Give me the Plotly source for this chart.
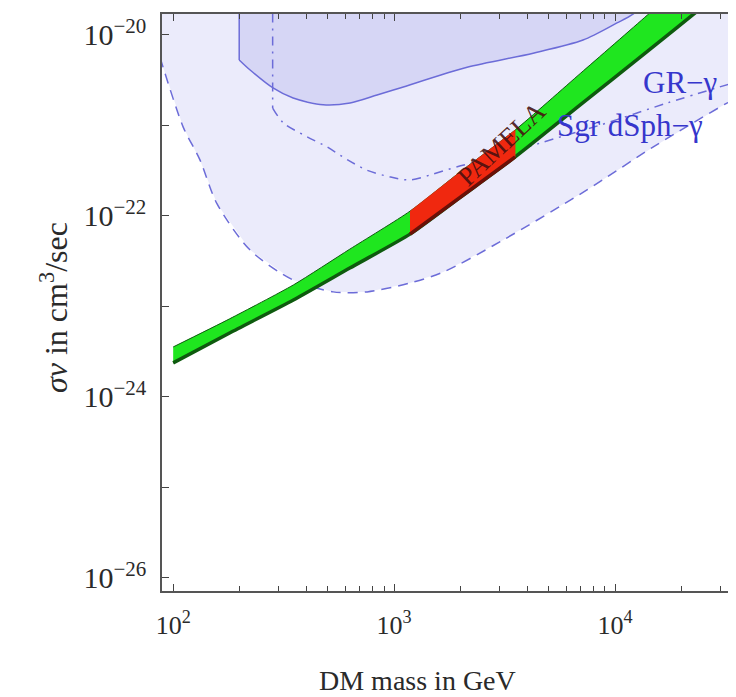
import numpy as np
import plotly.graph_objects as go

# ---------------- data ----------------
# thermal/Sommerfeld band (green), sigma v in cm^3/s
band_mass = [100, 180, 350, 630, 1180, 2000, 3530, 7000, 14000, 25000, 40000]
band_upper = [3.57e-24, 7.3e-24, 1.73e-23, 4.3e-23, 1.13e-22, 3.1e-22, 8.9e-22,
              3.8e-21, 1.66e-20, 5.9e-20, 1.6e-19]
band_lower = [2.38e-24, 5.1e-24, 1.18e-23, 2.66e-23, 6.3e-23, 1.62e-22, 4.49e-22,
              1.71e-21, 6.6e-21, 2.06e-20, 5.1e-20]
pamela_range = [1180, 3530]   # mass range of the red PAMELA-favoured region

# Sgr dSph - gamma bound (dashed)
sgr_mass = [87.3, 90, 111, 132, 158, 223, 349, 530, 755, 1180, 1670, 3020,
            7460, 14900, 32100, 36800]
sgr_sv = [5.6e-21, 4.4e-21, 9.6e-22, 4.2e-22, 1.36e-22, 4.2e-23, 1.96e-23,
          1.45e-23, 1.45e-23, 1.82e-23, 2.4e-23, 5.2e-23, 1.94e-22, 5.8e-22,
          1.77e-21, 2.1e-21]

# Galactic ridge - gamma bound (dash-dot)
gr_mass = [282, 282, 315, 404, 497, 613, 755, 959, 1180, 1455, 1930, 3020,
           4580, 8550, 17200, 34900]
gr_sv = [1e-19, 1.56e-21, 1.07e-21, 7.5e-22, 5.8e-22, 4.2e-22, 3.2e-22,
         2.7e-22, 2.5e-22, 2.84e-22, 3.5e-22, 4.6e-22, 6.4e-22, 1.01e-21,
         1.77e-21, 3.0e-21]

# excluded region (solid)
excl_mass = [199, 199, 223, 283, 349, 477, 632, 837, 1064, 2140, 4260, 7160,
             10200, 12050, 16000, 16000]
excl_sv = [1e-19, 5.3e-21, 4.1e-21, 2.6e-21, 2.01e-21, 1.69e-21, 1.77e-21,
           2.17e-21, 2.6e-21, 4.4e-21, 6.3e-21, 8.8e-21, 1.36e-20, 1.7e-20,
           3.2e-20, 1e-19]

sv_top = 1e-19

x_major = [100, 1000, 10000]
x_major_text = ["10<sup>2</sup>", "10<sup>3</sup>", "10<sup>4</sup>"]
x_minor = [200, 300, 400, 500, 600, 700, 800, 900,
           2000, 3000, 4000, 5000, 6000, 7000, 8000, 9000, 20000, 30000]
y_major = [1e-26, 1e-24, 1e-22, 1e-20]
y_major_text = ["10<sup>\u221226</sup>", "10<sup>\u221224</sup>",
                "10<sup>\u221222</sup>", "10<sup>\u221220</sup>"]
y_minor = [1e-25, 1e-23, 1e-21]

# ---------------- styles ----------------
FONT = "Liberation Serif"
LINE_BLUE = "#6c6cd8"
LIGHT_FILL = "#ebebfb"
DARK_FILL = "#d6d6f5"
GREEN = "#1fe61f"
DARK_GREEN = "#0e5a0e"
RED = "#f0280f"
DARK_RED = "#6a1008"
LABEL_BLUE = "#3636cc"
TEXT = "#2a2a2a"
SM = 0.8

fig = go.Figure()


def add(**kw):
    fig.add_trace(go.Scatter(mode="lines", hoverinfo="skip", showlegend=False, **kw))


# light fill above the Sgr dSph curve
add(x=sgr_mass + [sgr_mass[-1], sgr_mass[0]], y=sgr_sv + [sv_top, sv_top],
    fill="toself", fillcolor=LIGHT_FILL, line=dict(width=0))

# darker excluded region
add(x=excl_mass, y=excl_sv, fill="toself", fillcolor=DARK_FILL, line=dict(width=0))

# boundary lines: vertical part straight, curved part smooth
add(x=excl_mass[:2], y=excl_sv[:2], line=dict(color=LINE_BLUE, width=1.5))
add(x=excl_mass[1:-1], y=excl_sv[1:-1],
    line=dict(color=LINE_BLUE, width=1.5, shape="spline", smoothing=SM))
gr_dash = "9px,6px,2px,6px"
add(x=gr_mass[:2], y=gr_sv[:2], line=dict(color=LINE_BLUE, width=1.5, dash=gr_dash))
add(x=gr_mass[1:], y=gr_sv[1:],
    line=dict(color=LINE_BLUE, width=1.5, dash=gr_dash, shape="spline", smoothing=SM))
add(x=sgr_mass, y=sgr_sv,
    line=dict(color=LINE_BLUE, width=1.5, dash="10px,7px", shape="spline", smoothing=SM))

# green band
add(x=band_mass + band_mass[::-1], y=band_upper + band_lower[::-1],
    fill="toself", fillcolor=GREEN,
    line=dict(color=DARK_GREEN, width=1, shape="spline", smoothing=0.6))
add(x=band_mass, y=band_lower,
    line=dict(color=DARK_GREEN, width=3.5, shape="spline", smoothing=0.6))

# red PAMELA part of the band
idx = [i for i, m in enumerate(band_mass) if pamela_range[0] <= m <= pamela_range[1]]
rm = [band_mass[i] for i in idx]
ru = [band_upper[i] for i in idx]
rl = [band_lower[i] for i in idx]
add(x=rm + rm[::-1], y=ru + rl[::-1], fill="toself", fillcolor=RED,
    line=dict(color=RED, width=0.5))
add(x=rm, y=rl, line=dict(color=DARK_RED, width=3.5))

# labels
fig.add_annotation(x=np.log10(3050), y=np.log10(6.3e-22), text="PAMELA",
                   showarrow=False, textangle=-43,
                   font=dict(family=FONT, size=27, color="rgba(70,15,15,0.9)"))
fig.add_annotation(x=np.log10(29600), y=np.log10(3.0e-21), text="GR\u2212\u03b3",
                   showarrow=False, xanchor="right", yanchor="middle",
                   font=dict(family=FONT, size=31, color=LABEL_BLUE))
fig.add_annotation(x=np.log10(25500), y=np.log10(1.01e-21),
                   text="Sgr dSph\u2212\u03b3",
                   showarrow=False, xanchor="right", yanchor="middle",
                   font=dict(family=FONT, size=31, color=LABEL_BLUE))

# plot area in figure pixels (page body adds an 8px offset)
PL, PR, PT, PB = 154, 727, 6, 583
PW, PH = PR - PL, PB - PT

# axis titles
fig.add_annotation(xref="paper", yref="paper", x=(409 - PL) / PW, y=-(672 - PB) / PH,
                   text="DM mass in GeV", showarrow=False,
                   xanchor="center", yanchor="middle",
                   font=dict(family=FONT, size=28, color=TEXT))
fig.add_annotation(xref="paper", yref="paper", x=-(PL - 46) / PW, y=(PB - 300) / PH,
                   text="<i>\u03c3v</i> in cm<sup>3</sup>/sec", showarrow=False,
                   textangle=-90, xanchor="center", yanchor="middle",
                   font=dict(family=FONT, size=32, color=TEXT))

axis_common = dict(
    type="log", showgrid=False, zeroline=False, showline=True, automargin=False,
    linecolor="#555555", linewidth=1.5, mirror="ticks", ticks="inside",
    ticklen=7, tickwidth=1.2, tickcolor="#444444",
)

fig.update_layout(
    width=728, height=689,
    margin=dict(l=PL, r=728 - PR, t=PT, b=689 - PB),
    paper_bgcolor="white", plot_bgcolor="white",
    xaxis=dict(axis_common,
               range=[np.log10(89), np.log10(34900)],
               tickvals=x_major, ticktext=x_major_text, ticklabelstandoff=10,
               tickfont=dict(family=FONT, size=26, color=TEXT),
               minor=dict(tickvals=x_minor, ticks="inside", ticklen=5,
                          tickcolor="#444444", tickwidth=1)),
    yaxis=dict(axis_common,
               range=[-26.144, -19.768],
               tickvals=y_major, ticktext=y_major_text, ticklabelstandoff=8,
               tickfont=dict(family=FONT, size=30, color=TEXT),
               minor=dict(tickvals=y_minor, ticks="inside", ticklen=7,
                          tickcolor="#444444", tickwidth=1)),
)

fig.write_html("out.html")
